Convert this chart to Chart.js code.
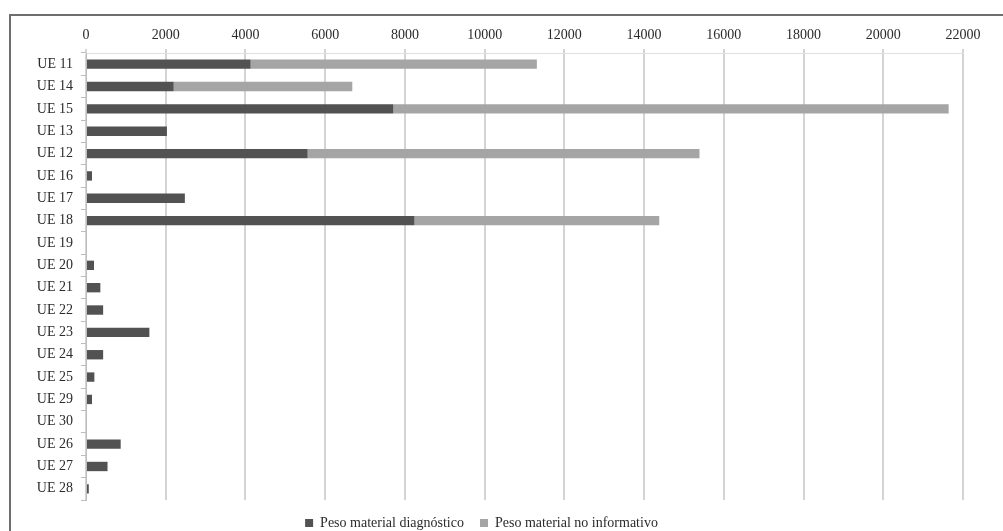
<!DOCTYPE html>
<html>
<head>
<meta charset="utf-8">
<script src="https://cdn.jsdelivr.net/npm/chart.js@4"></script>
<style>
  html, body { margin: 0; padding: 0; background: #fff; overflow: hidden; }
  #frame { position: absolute; left: 9px; top: 14px; width: 1010px; height: 540px;
           border-left: 2px solid #6e6e6e; border-top: 2px solid #6e6e6e; }
  #wrap { position: absolute; left: 0; top: 0; width: 1003px; height: 540px; }
</style>
</head>
<body>
<div id="frame"></div>
<div id="wrap"><canvas id="chart"></canvas></div>
<script>
// Unidades estratigráficas (orden del gráfico)
const categorias = ['UE 11', 'UE 14', 'UE 15', 'UE 13', 'UE 12', 'UE 16', 'UE 17', 'UE 18', 'UE 19', 'UE 20',
                    'UE 21', 'UE 22', 'UE 23', 'UE 24', 'UE 25', 'UE 29', 'UE 30', 'UE 26', 'UE 27', 'UE 28'];

// Peso material diagnóstico
const pesoDiagnostico = [4130, 2200, 7710, 2030, 5560, 150, 2480, 8240, 0, 200,
                         360, 430, 1590, 430, 210, 150, 0, 870, 540, 70];

// Peso material no informativo
const pesoNoInformativo = [7180, 4480, 13930, 0, 9830, 0, 0, 6140, 0, 0,
                           0, 0, 0, 0, 0, 0, 0, 0, 0, 0];

const ejeMax = 22000;
const ejePaso = 2000;

const fuente = "'Liberation Serif', 'DejaVu Serif', serif";

const ctx = document.getElementById('chart').getContext('2d');
new Chart(ctx, {
    type: 'bar',
    data: {
        labels: categorias,
        datasets: [
            { label: 'Peso material diagnóstico', data: pesoDiagnostico, backgroundColor: '#525252' },
            { label: 'Peso material no informativo', data: pesoNoInformativo, backgroundColor: '#a5a5a5' }
        ]
    },
    options: {
        indexAxis: 'y',
        responsive: true,
        maintainAspectRatio: false,
        animation: false,
        layout: { padding: { left: 0, right: 40, top: 0, bottom: 0 } },
        datasets: { bar: { categoryPercentage: 1, barPercentage: 0.42 } },
        scales: {
            x: {
                position: 'top',
                stacked: true,
                min: 0,
                max: ejeMax,
                ticks: {
                    stepSize: ejePaso,
                    color: '#2b2b2b',
                    font: { family: fuente, size: 14 },
                    padding: 5,
                    callback: (v) => String(v)
                },
                grid: { color: '#d4d4d4', lineWidth: 2, tickLength: 4 },
                border: { display: true, color: '#e0e0e0', width: 1 },
                afterFit: (scale) => { scale.height = 53; }
            },
            y: {
                stacked: true,
                ticks: { color: '#2b2b2b', font: { family: fuente, size: 14 }, padding: 8 },
                grid: { display: true, drawOnChartArea: false, offset: true, color: '#bdbdbd', tickLength: 5 },
                border: { display: true, color: '#bdbdbd', width: 1 },
                afterFit: (scale) => { scale.width = 86; }
            }
        },
        plugins: {
            legend: {
                position: 'bottom',
                labels: {
                    color: '#2b2b2b',
                    font: { family: fuente, size: 14 },
                    boxWidth: 8,
                    boxHeight: 8,
                    padding: 16
                }
            },
            tooltip: { enabled: false }
        }
    }
});
</script>
</body>
</html>
